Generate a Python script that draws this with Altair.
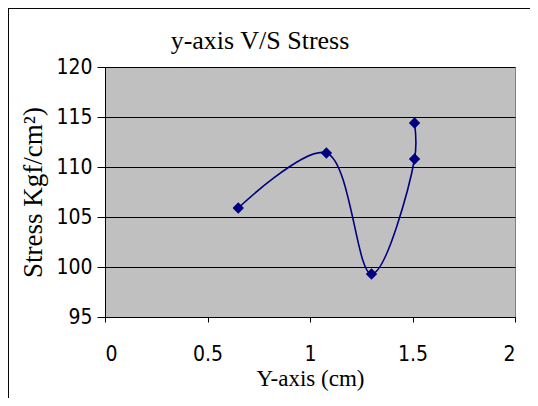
import altair as alt
import pandas as pd

# Data
y_axis_cm = [0.65, 1.08, 1.30, 1.51, 1.51]
stress = [105.9, 111.4, 99.3, 110.8, 114.4]
order_idx = [0, 1, 2, 3, 4]

x_ticks = [0, 0.5, 1, 1.5, 2]
y_ticks = [95, 100, 105, 110, 115, 120]

df = pd.DataFrame({"x": y_axis_cm, "y": stress, "i": order_idx})

NAVY = "#000080"
LABEL_FONT = "DejaVu Sans Condensed, Liberation Sans"

x_enc = alt.X(
    "x:Q",
    scale=alt.Scale(domain=[0, 2], nice=False, zero=False),
    axis=alt.Axis(
        values=x_ticks,
        format="~g",
        title="Y-axis (cm)",
        grid=False,
        domainColor="#000000",
        tickColor="#000000",
        tickSize=5,
        labelPadding=21,
        labelFont=LABEL_FONT,
        labelFontSize=21,
        labelColor="#000000",
        titleFont="Liberation Serif",
        titleFontSize=23,
        titleFontWeight="normal",
        titleColor="#000000",
        titlePadding=3,
    ),
)
y_enc = alt.Y(
    "y:Q",
    scale=alt.Scale(domain=[95, 120], nice=False, zero=False),
    axis=alt.Axis(
        values=y_ticks,
        title="Stress Kgf/cm²)",
        grid=True,
        gridColor="#000000",
        gridWidth=1,
        domainColor="#000000",
        tickColor="#000000",
        tickSize=8,
        labelPadding=5,
        labelFont=LABEL_FONT,
        labelFontSize=21,
        labelColor="#000000",
        titleFont="Liberation Serif",
        titleFontSize=27,
        titleFontWeight="normal",
        titleColor="#000000",
        titlePadding=8,
    ),
)

line = alt.Chart(df).mark_line(
    interpolate="catmull-rom", color=NAVY, strokeWidth=1.6
).encode(x=x_enc, y=y_enc, order="i:O")

pts = alt.Chart(df).mark_point(
    shape="diamond", filled=True, color=NAVY, size=130, opacity=1
).encode(x="x:Q", y="y:Q")

frame_left = alt.Chart(df).mark_rule(color="#000000", strokeWidth=1).encode(
    x=alt.value(-97), y=alt.value(-59), y2=alt.value(400)
)
frame_top = alt.Chart(df).mark_rule(color="#000000", strokeWidth=1).encode(
    x=alt.value(-97), x2=alt.value(520), y=alt.value(-59)
)

chart = (
    alt.layer(line, pts, frame_left, frame_top)
    .properties(
        width=410,
        height=250,
        title=alt.TitleParams(
            "y-axis V/S Stress",
            font="Liberation Serif",
            fontSize=26,
            fontWeight="normal",
            color="#000000",
            frame="group",
            anchor="middle",
            dx=-50,
            offset=-46,
        ),
        autosize=alt.AutoSizeParams(type="none"),
        padding={"left": 97, "top": 59, "right": 15, "bottom": 81},
    )
    .configure(background="#FFFFFF")
    .configure_view(fill="#C0C0C0", stroke="#808080", strokeWidth=1)
)

chart.save("out.html", embed_options={"renderer": "svg", "actions": False})
